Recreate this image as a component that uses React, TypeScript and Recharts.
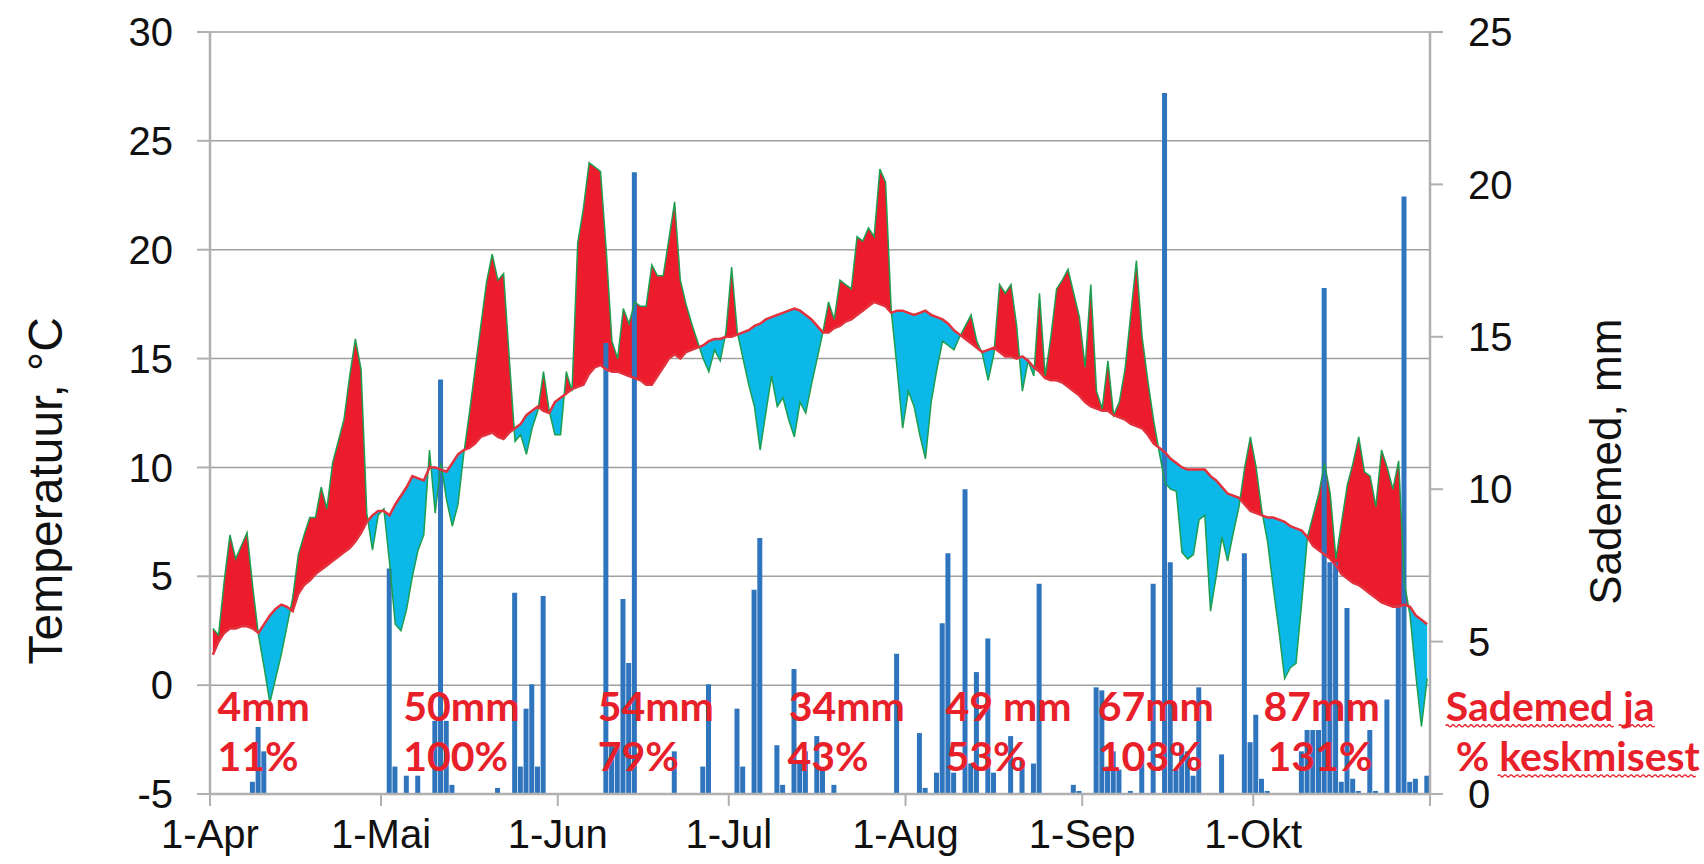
import React from 'react';
import { ComposedChart, Area, Bar, Line, XAxis, YAxis, CartesianGrid, ReferenceDot } from 'recharts';

// ---- axis ticks / labels ----
const monthTickDays = [0, 30, 61, 91, 122, 153, 183, 214];
const monthTickLabels = ['1-Apr', '1-Mai', '1-Jun', '1-Jul', '1-Aug', '1-Sep', '1-Okt', ''];
const tempTicks = [-5, 0, 5, 10, 15, 20, 25, 30];
const precipTicks = [0, 5, 10, 15, 20, 25];

// ---- daily mean temperature, 1 Apr .. 31 Oct (°C) ----
const dailyTemp = [
  2.6, 2.3, 4.8, 6.9, 5.8, 6.4, 7.0, 4.5, 2.3, 0.8,
  -0.8, 0.3, 1.4, 2.7, 4.0, 6.0, 6.9, 7.7, 7.7, 9.1,
  8.1, 10.2, 11.2, 12.2, 14.2, 15.9, 14.5, 7.9, 6.2, 7.8,
  8.1, 5.6, 2.8, 2.5, 3.5, 5.0, 6.2, 6.9, 10.8, 7.9,
  10.2, 8.5, 7.3, 8.3, 10.6, 12.5, 14.5, 16.5, 18.5, 19.8,
  18.6, 18.9, 15.0, 11.2, 11.5, 10.6, 11.8, 12.6, 14.4, 12.6,
  11.5, 11.5, 14.4, 13.5, 20.3, 21.9, 24.0, 23.8, 23.6, 20.0,
  15.8, 15.0, 17.3, 16.6, 17.6, 17.4, 17.4, 19.3, 18.8, 18.8,
  20.5, 22.2, 18.6, 17.5, 16.6, 15.8, 15.0, 14.4, 15.4, 14.9,
  16.2, 19.2, 16.2, 15.0, 13.8, 12.8, 10.8, 12.5, 14.2, 12.8,
  13.2, 12.2, 11.4, 13.0, 12.5, 13.8, 15.0, 16.2, 17.6, 16.8,
  18.6, 18.4, 18.2, 20.6, 20.4, 21.0, 20.6, 23.7, 23.1, 17.2,
  14.6, 11.8, 13.5, 12.8, 11.5, 10.4, 13.0, 14.5, 15.8, 15.6,
  15.4, 16.0, 16.5, 17.0, 15.8, 15.2, 14.0, 15.2, 18.4, 18.0,
  18.4, 16.5, 13.5, 14.9, 14.2, 18.0, 14.2, 16.0, 18.2, 18.6,
  19.1, 18.0, 16.9, 14.6, 18.4, 13.5, 12.7, 14.9, 12.4, 13.0,
  14.5, 17.0, 19.5, 16.0, 14.0, 12.2, 10.7, 9.3, 9.0, 8.9,
  6.1, 5.8, 6.0, 7.6, 7.8, 3.4, 5.0, 6.8, 5.7, 7.0,
  8.2, 10.0, 11.4, 10.0, 8.0, 6.6, 4.5, 2.5, 0.3, 0.8,
  1.0, 3.8, 6.8, 7.8, 8.8, 10.2, 8.8, 5.8, 7.5, 9.2,
  10.2, 11.4, 9.8, 9.6, 8.2, 10.8, 10.0, 9.0, 10.3, 4.7,
  3.2, 0.5, -1.9, 0.3,
];

// ---- long-term average temperature (°C) ----
const normalTemp = [
  1.4, 2.0, 2.4, 2.6, 2.6, 2.7, 2.7, 2.6, 2.4, 2.8,
  3.2, 3.5, 3.7, 3.6, 3.4, 4.2, 4.6, 4.8, 5.1, 5.3,
  5.5, 5.7, 5.9, 6.1, 6.3, 6.6, 7.0, 7.5, 7.8, 8.0,
  8.0, 7.8, 8.3, 8.7, 9.1, 9.6, 9.5, 9.4, 10.0, 10.0,
  9.9, 9.8, 10.2, 10.6, 10.8, 10.9, 11.1, 11.4, 11.5, 11.6,
  11.4, 11.3, 11.6, 11.8, 12.0, 12.4, 12.6, 12.8, 12.6, 12.5,
  13.0, 13.2, 13.4, 13.6, 13.7, 13.8, 14.3, 14.6, 14.7, 14.5,
  14.4, 14.4, 14.3, 14.2, 14.1, 14.0, 13.8, 13.8, 14.2, 14.6,
  15.0, 15.2, 15.0, 15.3, 15.4, 15.5, 15.6, 15.8, 15.9, 15.9,
  16.0, 16.0, 16.1, 16.2, 16.3, 16.5, 16.6, 16.8, 16.9, 17.0,
  17.1, 17.2, 17.3, 17.2, 17.0, 16.8, 16.5, 16.2, 16.2, 16.4,
  16.5, 16.7, 16.8, 17.0, 17.2, 17.4, 17.6, 17.5, 17.4, 17.1,
  17.2, 17.2, 17.1, 17.0, 17.1, 17.2, 17.0, 16.9, 16.8, 16.6,
  16.3, 16.1, 15.9, 15.7, 15.5, 15.3, 15.4, 15.5, 15.3, 15.1,
  15.1, 15.0, 15.1, 14.9, 14.6, 14.4, 14.1, 14.0, 14.0, 13.9,
  13.7, 13.5, 13.3, 13.0, 12.8, 12.7, 12.6, 12.6, 12.4, 12.3,
  12.2, 12.0, 11.9, 11.8, 11.5, 11.1, 10.9, 10.7, 10.4, 10.2,
  10.0, 9.9, 9.9, 9.9, 9.9, 9.6, 9.4, 9.1, 8.8, 8.7,
  8.6, 8.3, 8.0, 7.9, 7.8, 7.7, 7.7, 7.6, 7.5, 7.3,
  7.2, 7.1, 6.8, 6.4, 6.2, 6.0, 5.8, 5.5, 5.1, 4.9,
  4.7, 4.6, 4.4, 4.2, 4.0, 3.8, 3.7, 3.6, 3.6, 3.7,
  3.6, 3.2, 3.0, 2.8,
];

// ---- daily precipitation (mm) ----
const dailyPrecip = [
  0, 0, 0, 0, 0, 0, 0, 0.4, 2.2, 1.4,
  0, 0, 0, 0, 0, 0, 0, 0, 0, 0,
  0, 0, 0, 0, 0, 0, 0, 0, 0, 0,
  0, 7.4, 0.9, 0, 0.6, 0, 0.6, 0, 0, 2.4,
  13.6, 2.4, 0.3, 0, 0, 0, 0, 0, 0, 0,
  0.2, 0, 0, 6.6, 0.9, 2.8, 3.6, 0.9, 6.5, 0,
  0, 0, 0, 0, 0, 0, 0, 0, 0, 14.8,
  1.6, 1.6, 6.4, 4.3, 20.4, 0, 0, 0, 0, 0,
  0, 1.4, 0, 0, 0, 0, 0.9, 3.6, 0, 0,
  0, 0, 2.8, 0.9, 0, 6.7, 8.4, 0, 0, 1.6,
  0.3, 0, 4.1, 1.0, 1.4, 0, 1.9, 0.8, 0, 0.3,
  0, 0, 0, 0, 0, 0, 0, 0, 0, 0,
  4.6, 0, 0, 0, 2.0, 0.2, 0, 0.7, 5.6, 7.9,
  0.7, 0, 10.0, 1.0, 4.0, 0, 5.1, 0.7, 0, 0,
  1.9, 0, 1.1, 0, 1.0, 6.9, 0, 0, 0, 0,
  0, 0.3, 0.1, 0, 0, 3.5, 3.4, 0.9, 1.4, 0.8,
  0, 0.1, 0, 1.4, 0, 6.9, 0, 23.0, 7.6, 0.8,
  1.6, 1.4, 0.6, 3.5, 0, 0, 0, 1.3, 0, 0,
  0, 7.9, 1.7, 2.6, 0.5, 0.1, 0, 0, 0, 0,
  0, 1.4, 2.1, 2.1, 2.1, 16.6, 7.6, 7.6, 0.4, 6.1,
  0.5, 0.1, 0, 2.1, 0.1, 0, 3.1, 0, 6.2, 19.6,
  0.4, 0.5, 0, 0.6,
];

// ---- monthly annotations ----
const monthTotals = ['4mm', '50mm', '54mm', '34mm', '49 mm', '67mm', '87mm'];
const monthPercents = ['11%', '100%', '79%', '43%', '53%', '103%', '131%'];
const noteLines = ['Sademed ja', '% keskmisest'];
const leftTitle = 'Temperatuur, °C';
const rightTitle = 'Sademed, mm';

// anchor positions in data coordinates (day index, °C)
const totalsAnchorDay = [1.3, 33.9, 68.0, 101.5, 129.0, 155.7, 184.8];
const percentsAnchorDay = [1.3, 33.9, 68.0, 101.3, 129.0, 155.7, 185.5];
const noteAnchorDay = [216.75, 218.5];
const line1Temp = -1.64;
const line2Temp = -3.94;
const leftTitleAnchor = { day: -28.9, temp: 8.93 };
const rightTitleAnchor = { day: 244.8, temp: 10.26 };

// spell-check style wavy underlines under the note words: [start offset, width] in px
const noteUnderlines = [
  [[0, 168], [173, 40]],
  [[42, 200]],
];

// ---- styles ----
const RED_FILL = '#EC1C2D';
const CYAN_FILL = '#0BB8E8';
const BAR_BLUE = '#2F75BE';
const GREEN_LINE = '#1E9E50';
const NORMAL_LINE = '#E2323E';
const NOTE_RED = '#E8202A';
const AXIS_GREY = '#b0b0b0';
const GRID_GREY = '#a0a0a0';
const TICK_FONT = "'Liberation Sans', Arial, sans-serif";
const NOTE_FONT = "Lato, 'Liberation Sans', sans-serif";

const dailyRows = dailyTemp.map((t, i) => ({
  day: i + 0.5,
  temp: t,
  normal: normalTemp[i],
  precip: dailyPrecip[i],
}));

// rows for the above/below-normal fills, with the crossing points added
const areaRows: any[] = [];
dailyTemp.forEach((t, i) => {
  const n = normalTemp[i];
  areaRows.push({ day: i + 0.5, warm: [n, Math.max(t, n)], cold: [Math.min(t, n), n] });
  if (i < dailyTemp.length - 1) {
    const d0 = t - n;
    const d1 = dailyTemp[i + 1] - normalTemp[i + 1];
    if (d0 * d1 < 0) {
      const f = d0 / (d0 - d1);
      const v = n + (normalTemp[i + 1] - n) * f;
      areaRows.push({ day: i + 0.5 + f, warm: [v, v], cold: [v, v] });
    }
  }
});

const wavyPath = (x0: number, y: number, w: number) => {
  const step = 3;
  const n = Math.max(1, Math.floor(w / (2 * step)));
  let d = `M${x0},${y} q${step / 2},-2.2 ${step},0`;
  for (let k = 1; k < n * 2; k++) d += ` t${step},0`;
  return d;
};

const noteText = (text: string, underlines?: number[][]) => (props: any) => (
  <g>
    <text
      x={props.cx}
      y={props.cy}
      fill={NOTE_RED}
      fontFamily={NOTE_FONT}
      fontWeight={700}
      fontSize={41}
      textAnchor="start"
    >
      {text}
    </text>
    {underlines &&
      underlines.map(([off, w], k) => (
        <path
          key={k}
          d={wavyPath(props.cx + off, props.cy + 5, w)}
          fill="none"
          stroke={NOTE_RED}
          strokeWidth={1.3}
        />
      ))}
  </g>
);

const rotatedTitle = (text: string, size: number) => (props: any) => (
  <text
    x={props.cx}
    y={props.cy}
    transform={`rotate(-90 ${props.cx} ${props.cy})`}
    textAnchor="middle"
    dominantBaseline="central"
    fill="#111"
    fontFamily={TICK_FONT}
    fontSize={size}
  >
    {text}
  </text>
);

export default function App() {
  return (
    <div style={{ position: 'absolute', left: 0, top: 0, width: 1704, height: 864, background: '#fff' }}>
      <ComposedChart
        width={1704}
        height={864}
        data={dailyRows}
        margin={{ top: 32, right: 0, bottom: 0, left: 0 }}
      >
        <CartesianGrid yAxisId="left" vertical={false} stroke={GRID_GREY} strokeWidth={1.5} />
        <XAxis
          dataKey="day"
          type="number"
          domain={[0, 214]}
          ticks={monthTickDays}
          interval={0}
          tickFormatter={(v: number) => monthTickLabels[monthTickDays.indexOf(v)] ?? ''}
          height={70}
          tickSize={12}
          tickMargin={14}
          stroke={AXIS_GREY}
          axisLine={{ stroke: AXIS_GREY, strokeWidth: 2.5 }}
          tickLine={{ stroke: AXIS_GREY, strokeWidth: 2 }}
          tick={{ fontSize: 40, fill: '#111', fontFamily: TICK_FONT }}
        />
        <XAxis xAxisId="bars" dataKey="day" type="number" domain={[0, 214]} hide />
        <YAxis
          yAxisId="left"
          domain={[-5, 30]}
          ticks={tempTicks}
          interval={0}
          width={210}
          tickSize={13}
          tickMargin={24}
          axisLine={{ stroke: AXIS_GREY, strokeWidth: 2.5 }}
          tickLine={{ stroke: AXIS_GREY, strokeWidth: 2 }}
          tick={{ fontSize: 40, fill: '#111', fontFamily: TICK_FONT }}
        />
        <YAxis
          yAxisId="right"
          orientation="right"
          domain={[0, 25]}
          ticks={precipTicks}
          interval={0}
          width={274}
          tickSize={13}
          tickMargin={25}
          axisLine={{ stroke: AXIS_GREY, strokeWidth: 2.5 }}
          tickLine={{ stroke: AXIS_GREY, strokeWidth: 2 }}
          tick={{ fontSize: 40, fill: '#111', fontFamily: TICK_FONT, textAnchor: 'start' }}
        />
        <Area
          data={areaRows}
          yAxisId="left"
          type="linear"
          dataKey="warm"
          fill={RED_FILL}
          fillOpacity={1}
          stroke="none"
          isAnimationActive={false}
        />
        <Area
          data={areaRows}
          yAxisId="left"
          type="linear"
          dataKey="cold"
          fill={CYAN_FILL}
          fillOpacity={1}
          stroke="none"
          isAnimationActive={false}
        />
        <Bar
          xAxisId="bars"
          yAxisId="right"
          dataKey="precip"
          fill={BAR_BLUE}
          barSize={5}
          isAnimationActive={false}
        />
        <Line
          yAxisId="left"
          type="linear"
          dataKey="temp"
          stroke={GREEN_LINE}
          strokeWidth={1.5}
          dot={false}
          activeDot={false}
          isAnimationActive={false}
        />
        <Line
          yAxisId="left"
          type="linear"
          dataKey="normal"
          stroke={NORMAL_LINE}
          strokeWidth={2.5}
          dot={false}
          activeDot={false}
          isAnimationActive={false}
        />
        {monthTotals.map((t, i) => (
          <ReferenceDot
            key={'tot' + i}
            yAxisId="left"
            x={totalsAnchorDay[i]}
            y={line1Temp}
            ifOverflow="visible"
            shape={noteText(t)}
          />
        ))}
        {monthPercents.map((t, i) => (
          <ReferenceDot
            key={'pct' + i}
            yAxisId="left"
            x={percentsAnchorDay[i]}
            y={line2Temp}
            ifOverflow="visible"
            shape={noteText(t)}
          />
        ))}
        {noteLines.map((t, i) => (
          <ReferenceDot
            key={'note' + i}
            yAxisId="left"
            x={noteAnchorDay[i]}
            y={i === 0 ? line1Temp : line2Temp}
            ifOverflow="visible"
            shape={noteText(t, noteUnderlines[i])}
          />
        ))}
        <ReferenceDot
          yAxisId="left"
          x={leftTitleAnchor.day}
          y={leftTitleAnchor.temp}
          ifOverflow="visible"
          shape={rotatedTitle(leftTitle, 48)}
        />
        <ReferenceDot
          yAxisId="left"
          x={rightTitleAnchor.day}
          y={rightTitleAnchor.temp}
          ifOverflow="visible"
          shape={rotatedTitle(rightTitle, 44)}
        />
      </ComposedChart>
    </div>
  );
}
